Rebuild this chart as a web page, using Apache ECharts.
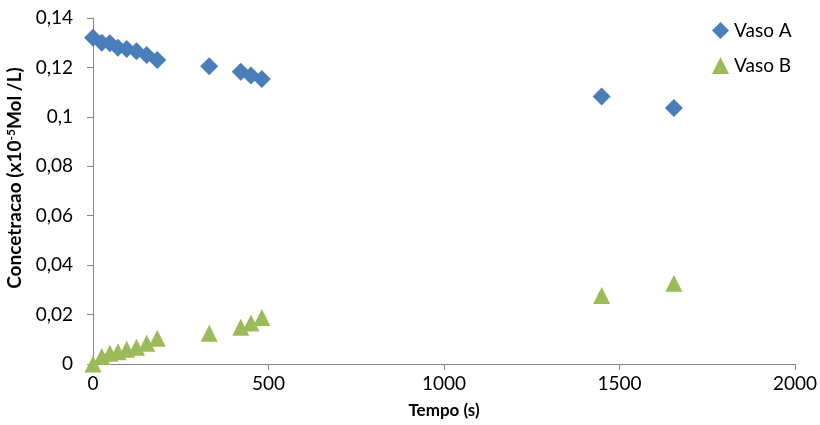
<!DOCTYPE html>
<html>
<head>
<meta charset="utf-8">
<script src="https://cdn.jsdelivr.net/npm/echarts@6/dist/echarts.min.js"></script>
<style>
  html, body { margin: 0; padding: 0; background: #fff; }
  #chart { width: 820px; height: 425px; }
</style>
</head>
<body>
<div id="chart"></div>
<script>
// tempo (s)
const tempoA = [0, 25, 48, 71, 96, 124, 153, 183, 331, 421, 450, 481, 1449, 1655]
const vasoA = [0.132, 0.130, 0.1298, 0.128, 0.1275, 0.1265, 0.125, 0.123, 0.1205, 0.1183, 0.1167, 0.1153, 0.1082, 0.1036]
const tempoB = [0, 25, 48, 71, 96, 124, 153, 183, 331, 421, 450, 481, 1449, 1655]
const vasoB = [0.0, 0.003, 0.0043, 0.005, 0.006, 0.0068, 0.0084, 0.0104, 0.0124, 0.0149, 0.0166, 0.0188, 0.0277, 0.0327]

const font = 'Lato, "Open Sans", sans-serif'
const axisGray = '#868686'

const chart = echarts.init(document.getElementById('chart'))

const fmt = (v) => String(+v.toFixed(2)).replace('.', ',')

chart.setOption({
  animation: false,
  textStyle: { fontFamily: font },
  grid: { left: 93, right: 25, top: 18, bottom: 61, containLabel: false, outerBoundsMode: 'none' },
  legend: {
    orient: 'vertical',
    left: 707, top: 16,
    itemWidth: 17, itemHeight: 17, itemGap: 16,
    textStyle: { color: '#000', fontSize: 19, fontFamily: font },
    data: [
      { name: 'Vaso A', icon: 'diamond' },
      { name: 'Vaso B', icon: 'triangle' }
    ]
  },
  xAxis: {
    type: 'value', min: 0, max: 2000, interval: 500,
    name: 'Tempo (s)', nameLocation: 'middle', nameGap: 38,
    nameTextStyle: { color: '#000', fontSize: 17, fontWeight: 'bold', fontFamily: font },
    axisLine: { show: true, lineStyle: { color: axisGray, width: 1 } },
    axisTick: { show: true, length: 6, lineStyle: { color: axisGray } },
    axisLabel: { color: '#000', fontSize: 19, margin: 10, formatter: (v) => String(v) },
    splitLine: { show: false }
  },
  yAxis: {
    type: 'value', min: 0, max: 0.14, interval: 0.02,
    name: 'Concetracao (x10{sup|-5}Mol /L)', nameLocation: 'middle', nameGap: 67,
    nameTextStyle: {
      color: '#000', fontSize: 19, fontWeight: 'bold', fontFamily: font,
      padding: [0, 0, 0, 26],
      rich: { sup: { fontSize: 12, fontWeight: 'bold', verticalAlign: 'top', padding: [0, 0, 8, 0] } }
    },
    axisLine: { show: true, lineStyle: { color: axisGray, width: 1 } },
    axisTick: { show: true, length: 6, lineStyle: { color: axisGray } },
    axisLabel: { color: '#000', fontSize: 19, margin: 20, formatter: fmt },
    splitLine: { show: false }
  },
  series: [
    {
      name: 'Vaso A', type: 'scatter', symbol: 'diamond', symbolSize: 18,
      itemStyle: { color: '#4A7EBB', opacity: 1 },
      data: tempoA.map((t, i) => [t, vasoA[i]])
    },
    {
      name: 'Vaso B', type: 'scatter', symbol: 'triangle', symbolSize: 17,
      itemStyle: { color: '#9BBB59', opacity: 1 },
      data: tempoB.map((t, i) => [t, vasoB[i]])
    }
  ]
})
</script>
</body>
</html>
